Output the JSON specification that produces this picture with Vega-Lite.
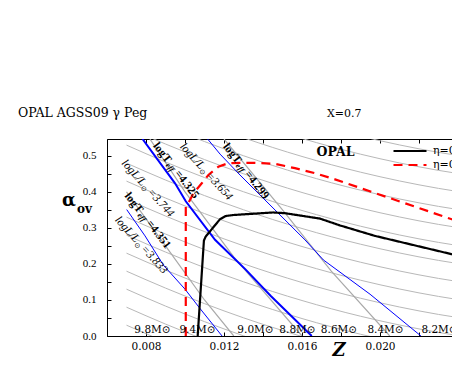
{
  "$schema": "https://vega.github.io/schema/vega-lite/v6.json",
  "autosize": {"type": "none"},
  "padding": {"left": 107, "top": 139, "right": 0, "bottom": 46},
  "width": 345,
  "height": 197,
  "config": {"view": {"stroke": null}, "font": "Liberation Serif"},
  "datasets": {
    "mass": [
      {"id":"m1","i":0,"Z":0.007,"a":0.03},{"id":"m1","i":1,"Z":0.009,"a":-0.0169},
      {"id":"m2","i":0,"Z":0.007,"a":0.08},{"id":"m2","i":1,"Z":0.009,"a":0.0331},{"id":"m2","i":2,"Z":0.011,"a":-0.0101},
      {"id":"m3","i":0,"Z":0.007,"a":0.13},{"id":"m3","i":1,"Z":0.009,"a":0.0831},{"id":"m3","i":2,"Z":0.011,"a":0.0399},{"id":"m3","i":3,"Z":0.013,"a":0.0005},{"id":"m3","i":4,"Z":0.016,"a":-0.0515},
      {"id":"m4","i":0,"Z":0.007,"a":0.18},{"id":"m4","i":1,"Z":0.009,"a":0.1331},{"id":"m4","i":2,"Z":0.011,"a":0.0899},{"id":"m4","i":3,"Z":0.013,"a":0.0505},{"id":"m4","i":4,"Z":0.016,"a":-0.0015},
      {"id":"m5","i":0,"Z":0.007,"a":0.23},{"id":"m5","i":1,"Z":0.009,"a":0.1831},{"id":"m5","i":2,"Z":0.011,"a":0.1399},{"id":"m5","i":3,"Z":0.013,"a":0.1005},{"id":"m5","i":4,"Z":0.016,"a":0.0485},{"id":"m5","i":5,"Z":0.019,"a":0.0049},{"id":"m5","i":6,"Z":0.023,"a":-0.0401},
      {"id":"m6","i":0,"Z":0.007,"a":0.28},{"id":"m6","i":1,"Z":0.009,"a":0.2331},{"id":"m6","i":2,"Z":0.011,"a":0.1899},{"id":"m6","i":3,"Z":0.013,"a":0.1505},{"id":"m6","i":4,"Z":0.016,"a":0.0985},{"id":"m6","i":5,"Z":0.019,"a":0.0549},{"id":"m6","i":6,"Z":0.023,"a":0.0099},{"id":"m6","i":7,"Z":0.027,"a":-0.02},
      {"id":"m7","i":0,"Z":0.007,"a":0.33},{"id":"m7","i":1,"Z":0.009,"a":0.2831},{"id":"m7","i":2,"Z":0.011,"a":0.2399},{"id":"m7","i":3,"Z":0.013,"a":0.2005},{"id":"m7","i":4,"Z":0.016,"a":0.1485},{"id":"m7","i":5,"Z":0.019,"a":0.1049},{"id":"m7","i":6,"Z":0.023,"a":0.0599},{"id":"m7","i":7,"Z":0.027,"a":0.03},
      {"id":"m8","i":0,"Z":0.007,"a":0.38},{"id":"m8","i":1,"Z":0.009,"a":0.3331},{"id":"m8","i":2,"Z":0.011,"a":0.2899},{"id":"m8","i":3,"Z":0.013,"a":0.2505},{"id":"m8","i":4,"Z":0.016,"a":0.1985},{"id":"m8","i":5,"Z":0.019,"a":0.1549},{"id":"m8","i":6,"Z":0.023,"a":0.1099},{"id":"m8","i":7,"Z":0.027,"a":0.08},
      {"id":"m9","i":0,"Z":0.007,"a":0.43},{"id":"m9","i":1,"Z":0.009,"a":0.3831},{"id":"m9","i":2,"Z":0.011,"a":0.3399},{"id":"m9","i":3,"Z":0.013,"a":0.3005},{"id":"m9","i":4,"Z":0.016,"a":0.2485},{"id":"m9","i":5,"Z":0.019,"a":0.2049},{"id":"m9","i":6,"Z":0.023,"a":0.1599},{"id":"m9","i":7,"Z":0.027,"a":0.13},
      {"id":"m10","i":0,"Z":0.007,"a":0.48},{"id":"m10","i":1,"Z":0.009,"a":0.4331},{"id":"m10","i":2,"Z":0.011,"a":0.3899},{"id":"m10","i":3,"Z":0.013,"a":0.3505},{"id":"m10","i":4,"Z":0.016,"a":0.2985},{"id":"m10","i":5,"Z":0.019,"a":0.2549},{"id":"m10","i":6,"Z":0.023,"a":0.2099},{"id":"m10","i":7,"Z":0.027,"a":0.18},
      {"id":"m11","i":0,"Z":0.007,"a":0.53},{"id":"m11","i":1,"Z":0.009,"a":0.4831},{"id":"m11","i":2,"Z":0.011,"a":0.4399},{"id":"m11","i":3,"Z":0.013,"a":0.4005},{"id":"m11","i":4,"Z":0.016,"a":0.3485},{"id":"m11","i":5,"Z":0.019,"a":0.3049},{"id":"m11","i":6,"Z":0.023,"a":0.2599},{"id":"m11","i":7,"Z":0.027,"a":0.23},
      {"id":"m12","i":0,"Z":0.007,"a":0.58},{"id":"m12","i":1,"Z":0.009,"a":0.5331},{"id":"m12","i":2,"Z":0.011,"a":0.4899},{"id":"m12","i":3,"Z":0.013,"a":0.4505},{"id":"m12","i":4,"Z":0.016,"a":0.3985},{"id":"m12","i":5,"Z":0.019,"a":0.3549},{"id":"m12","i":6,"Z":0.023,"a":0.3099},{"id":"m12","i":7,"Z":0.027,"a":0.28},
      {"id":"m13","i":0,"Z":0.007,"a":0.63},{"id":"m13","i":1,"Z":0.009,"a":0.5831},{"id":"m13","i":2,"Z":0.011,"a":0.5399},{"id":"m13","i":3,"Z":0.013,"a":0.5005},{"id":"m13","i":4,"Z":0.016,"a":0.4485},{"id":"m13","i":5,"Z":0.019,"a":0.4049},{"id":"m13","i":6,"Z":0.023,"a":0.3599},{"id":"m13","i":7,"Z":0.027,"a":0.33},
      {"id":"m14","i":0,"Z":0.007,"a":0.68},{"id":"m14","i":1,"Z":0.009,"a":0.6331},{"id":"m14","i":2,"Z":0.011,"a":0.5899},{"id":"m14","i":3,"Z":0.013,"a":0.5505},{"id":"m14","i":4,"Z":0.016,"a":0.4985},{"id":"m14","i":5,"Z":0.019,"a":0.4549},{"id":"m14","i":6,"Z":0.023,"a":0.4099},{"id":"m14","i":7,"Z":0.027,"a":0.38},
      {"id":"m15","i":0,"Z":0.011,"a":0.6399},{"id":"m15","i":1,"Z":0.013,"a":0.6005},{"id":"m15","i":2,"Z":0.016,"a":0.5485},{"id":"m15","i":3,"Z":0.019,"a":0.5049},{"id":"m15","i":4,"Z":0.023,"a":0.4599},{"id":"m15","i":5,"Z":0.027,"a":0.43},
      {"id":"m16","i":0,"Z":0.013,"a":0.6505},{"id":"m16","i":1,"Z":0.016,"a":0.5985},{"id":"m16","i":2,"Z":0.019,"a":0.5549},{"id":"m16","i":3,"Z":0.023,"a":0.5099},{"id":"m16","i":4,"Z":0.027,"a":0.48},
      {"id":"m17","i":0,"Z":0.016,"a":0.6485},{"id":"m17","i":1,"Z":0.019,"a":0.6049},{"id":"m17","i":2,"Z":0.023,"a":0.5599},{"id":"m17","i":3,"Z":0.027,"a":0.53}
    ],
    "lum": [
      {"id":"s1","i":0,"Z":0.0070,"a":0.40},{"id":"s1","i":1,"Z":0.0090,"a":0.25},{"id":"s1","i":2,"Z":0.0110,"a":0.10},{"id":"s1","i":3,"Z":0.0125,"a":0.0},
      {"id":"s2","i":0,"Z":0.0082,"a":0.547},{"id":"s2","i":1,"Z":0.0100,"a":0.40},{"id":"s2","i":2,"Z":0.0125,"a":0.22},{"id":"s2","i":3,"Z":0.0160,"a":0.0},
      {"id":"s3","i":0,"Z":0.0120,"a":0.547},{"id":"s3","i":1,"Z":0.0150,"a":0.35},{"id":"s3","i":2,"Z":0.0175,"a":0.18},{"id":"s3","i":3,"Z":0.0205,"a":0.0}
    ],
    "tthick": [
      {"id":"4.325","i":0,"Z":0.00782,"a":0.547},{"id":"4.325","i":1,"Z":0.00949,"a":0.424},{"id":"4.325","i":2,"Z":0.01004,"a":0.374},{"id":"4.325","i":3,"Z":0.01154,"a":0.267},{"id":"4.325","i":4,"Z":0.0131,"a":0.185},{"id":"4.325","i":5,"Z":0.0144,"a":0.111},{"id":"4.325","i":6,"Z":0.0165,"a":0.0}
    ],
    "tthin": [
      {"id":"4.299","i":0,"Z":0.01116,"a":0.547},{"id":"4.299","i":1,"Z":0.0118,"a":0.505},{"id":"4.299","i":2,"Z":0.01282,"a":0.447},{"id":"4.299","i":3,"Z":0.01615,"a":0.267},{"id":"4.299","i":4,"Z":0.0171,"a":0.211},{"id":"4.299","i":5,"Z":0.01949,"a":0.116},{"id":"4.299","i":6,"Z":0.0221,"a":0.0},
      {"id":"4.351","i":0,"Z":0.00701,"a":0.351},{"id":"4.351","i":1,"Z":0.00795,"a":0.278},{"id":"4.351","i":2,"Z":0.00889,"a":0.197},{"id":"4.351","i":3,"Z":0.0100,"a":0.13},{"id":"4.351","i":4,"Z":0.01073,"a":0.079},{"id":"4.351","i":5,"Z":0.0119,"a":0.0}
    ],
    "eta": [
      {"eta":"η=0","i":0,"Z":0.01065,"a":0.0},{"eta":"η=0","i":1,"Z":0.01097,"a":0.265},{"eta":"η=0","i":2,"Z":0.01106,"a":0.276},{"eta":"η=0","i":3,"Z":0.01179,"a":0.324},{"eta":"η=0","i":4,"Z":0.01208,"a":0.333},{"eta":"η=0","i":5,"Z":0.01248,"a":0.336},{"eta":"η=0","i":6,"Z":0.01453,"a":0.343},{"eta":"η=0","i":7,"Z":0.01513,"a":0.341},{"eta":"η=0","i":8,"Z":0.01692,"a":0.326},{"eta":"η=0","i":9,"Z":0.01795,"a":0.307},{"eta":"η=0","i":10,"Z":0.01974,"a":0.278},{"eta":"η=0","i":11,"Z":0.02369,"a":0.227},{"eta":"η=0","i":12,"Z":0.0300,"a":0.15},
      {"eta":"η=0.1","i":0,"Z":0.01004,"a":0.0},{"eta":"η=0.1","i":1,"Z":0.01004,"a":0.359},{"eta":"η=0.1","i":2,"Z":0.01017,"a":0.369},{"eta":"η=0.1","i":3,"Z":0.01043,"a":0.396},{"eta":"η=0.1","i":4,"Z":0.01086,"a":0.424},{"eta":"η=0.1","i":5,"Z":0.0112,"a":0.447},{"eta":"η=0.1","i":6,"Z":0.01171,"a":0.470},{"eta":"η=0.1","i":7,"Z":0.01222,"a":0.480},{"eta":"η=0.1","i":8,"Z":0.01342,"a":0.481},{"eta":"η=0.1","i":9,"Z":0.01462,"a":0.478},{"eta":"η=0.1","i":10,"Z":0.01564,"a":0.466},{"eta":"η=0.1","i":11,"Z":0.01667,"a":0.452},{"eta":"η=0.1","i":12,"Z":0.01769,"a":0.435},{"eta":"η=0.1","i":13,"Z":0.02369,"a":0.324},{"eta":"η=0.1","i":14,"Z":0.0300,"a":0.21}
    ],
    "tlab": [
      {"Z":0.008462,"a":0.5325,"t1":"logT","t2":"eff","t3":"=4.325"},
      {"Z":0.012051,"a":0.5306,"t1":"logT","t2":"eff","t3":"=4.299"},
      {"Z":0.00701,"a":0.3936,"t1":"logT","t2":"eff","t3":"=4.351"}
    ],
    "llab": [
      {"Z":0.009831,"a":0.5306,"t1":"logL/L","t2":"⊙","t3":"=3.654"},
      {"Z":0.006836,"a":0.4842,"t1":"logL/L","t2":"⊙","t3":"=3.744"},
      {"Z":0.006497,"a":0.3269,"t1":"logL/L","t2":"⊙","t3":"=3.833"}
    ],
    "mlab": [
      {"Z":0.008333,"a":0.008,"t":"9.8M⊙"},
      {"Z":0.010641,"a":0.008,"t":"9.4M⊙"},
      {"Z":0.013615,"a":0.008,"t":"9.0M⊙"},
      {"Z":0.015769,"a":0.008,"t":"8.8M⊙"},
      {"Z":0.017897,"a":0.008,"t":"8.6M⊙"},
      {"Z":0.020282,"a":0.008,"t":"8.4M⊙"},
      {"Z":0.023051,"a":0.008,"t":"8.2M⊙"}
    ],
    "head1": [{"Z":0.001436,"a":0.609,"t":"OPAL AGSS09  γ Peg"}],
    "head2": [{"Z":0.017282,"a":0.609,"t":"X=0.7"}],
    "opal": [{"Z":0.01772,"a":0.5,"t":"OPAL"}],
    "alpha": [{"Z":0.004051,"a":0.361,"t":"α"}],
    "ov": [{"Z":0.004462,"a":0.342,"t":"ov"}]
  },
  "encoding": {
    "x": {"field": "Z", "type": "quantitative", "scale": {"domain": [0.006, 0.023692]}, "axis": null},
    "y": {"field": "a", "type": "quantitative", "scale": {"domain": [0, 0.547]},
      "axis": {"orient": "left", "values": [0,0.05,0.1,0.15,0.2,0.25,0.3,0.35,0.4,0.45,0.5],
        "labelExpr": "round(datum.value*100) % 10 == 0 ? format(datum.value, '.1f') : ''",
        "grid": false, "domain": true, "domainColor": "black", "domainWidth": 1,
        "tickColor": "black", "tickSize": -4, "labelPadding": 15,
        "labelFont": "Liberation Serif", "labelFontSize": 11, "labelColor": "black", "title": null}}
  },
  "layer": [
    {
      "data": {"name": "mass"},
      "mark": {"type": "line", "clip": true, "color": "#b8b8b8", "strokeWidth": 1, "interpolate": "monotone"},
      "encoding": {
        "detail": {"field": "id"},
        "order": {"field": "i", "type": "quantitative"},
        "x": {"field": "Z", "type": "quantitative", "scale": {"domain": [0.006, 0.023692]},
          "axis": {"orient": "bottom", "values": [0.006,0.008,0.010,0.012,0.014,0.016,0.018,0.020,0.022,0.024],
            "labelExpr": "round(datum.value*1000) % 4 == 0 ? format(datum.value, '.3f') : ''",
            "labelOverlap": false, "labelFlush": false, "labelBound": false,
            "grid": false, "domain": true, "domainColor": "black", "domainWidth": 1,
            "tickColor": "black", "tickSize": -4, "labelPadding": 9,
            "labelFont": "DejaVu Serif", "labelFontSize": 10.5, "labelColor": "black",
            "title": "Z", "titleFont": "DejaVu Serif", "titleFontSize": 18, "titleFontWeight": "bold", "titleFontStyle": "italic",
            "titleColor": "black", "titleX": 231.5, "titleY": 19, "titleBaseline": "alphabetic"}}
      }
    },
    {
      "data": {"name": "lum"},
      "mark": {"type": "line", "clip": true, "color": "#a9a9a9", "strokeWidth": 1.2},
      "encoding": {"detail": {"field": "id"}, "order": {"field": "i", "type": "quantitative"}}
    },
    {
      "data": {"name": "tthin"},
      "mark": {"type": "line", "clip": true, "color": "#0000ff", "strokeWidth": 1},
      "encoding": {
        "detail": {"field": "id"},
        "order": {"field": "i", "type": "quantitative"},
        "x": {"field": "Z", "type": "quantitative", "scale": {"domain": [0.006, 0.023692]},
          "axis": {"orient": "top", "values": [0.006,0.008,0.010,0.012,0.014,0.016,0.018,0.020,0.022],
            "labels": false, "grid": false, "domain": true, "domainColor": "black", "domainWidth": 1,
            "tickColor": "black", "tickSize": -4, "title": null}}
      }
    },
    {
      "data": {"name": "tthick"},
      "mark": {"type": "line", "clip": true, "color": "#0000ff", "strokeWidth": 2},
      "encoding": {"order": {"field": "i", "type": "quantitative"}}
    },
    {
      "data": {"name": "eta"},
      "mark": {"type": "line", "clip": true, "strokeWidth": 2.2},
      "encoding": {
        "order": {"field": "i", "type": "quantitative"},
        "color": {"field": "eta", "type": "nominal", "scale": {"domain": ["η=0", "η=0.1"], "range": ["black", "#ff0000"]},
          "legend": {"orient": "none", "legendX": 296, "legendY": 5, "title": null, "symbolType": "M-3,0H3", "symbolSize": 121,
            "symbolStrokeWidth": 2.2, "labelFont": "DejaVu Serif", "labelFontSize": 11, "labelColor": "black", "labelOffset": 16,
            "rowPadding": 2, "padding": 0}},
        "strokeDash": {"field": "eta", "type": "nominal", "scale": {"domain": ["η=0", "η=0.1"], "range": [[1, 0], [9, 6]]}}
      }
    },
    {
      "data": {"name": "tlab"},
      "mark": {"type": "text", "angle": 52, "font": "Liberation Serif", "fontWeight": "bold", "fontSize": 11.5, "align": "left", "baseline": "middle", "color": "black"},
      "encoding": {"text": {"field": "t1"}}
    },
    {
      "data": {"name": "tlab"},
      "mark": {"type": "text", "angle": 52, "dx": 23, "dy": 3, "font": "Liberation Serif", "fontWeight": "bold", "fontStyle": "italic", "fontSize": 8, "align": "left", "baseline": "middle", "color": "black"},
      "encoding": {"text": {"field": "t2"}}
    },
    {
      "data": {"name": "tlab"},
      "mark": {"type": "text", "angle": 52, "dx": 35, "font": "Liberation Serif", "fontWeight": "bold", "fontSize": 11.5, "align": "left", "baseline": "middle", "color": "black"},
      "encoding": {"text": {"field": "t3"}}
    },
    {
      "data": {"name": "llab"},
      "mark": {"type": "text", "angle": 48, "font": "Liberation Serif", "fontStyle": "italic", "fontSize": 11.5, "align": "left", "baseline": "middle", "color": "black"},
      "encoding": {"text": {"field": "t1"}}
    },
    {
      "data": {"name": "llab"},
      "mark": {"type": "text", "angle": 48, "dx": 31, "dy": 3, "font": "DejaVu Sans", "fontSize": 7, "align": "left", "baseline": "middle", "color": "black"},
      "encoding": {"text": {"field": "t2"}}
    },
    {
      "data": {"name": "llab"},
      "mark": {"type": "text", "angle": 48, "dx": 39, "font": "Liberation Serif", "fontStyle": "italic", "fontSize": 11.5, "align": "left", "baseline": "middle", "color": "black"},
      "encoding": {"text": {"field": "t3"}}
    },
    {
      "data": {"name": "mlab"},
      "mark": {"type": "text", "font": "DejaVu Serif", "fontSize": 10.5, "align": "center", "baseline": "alphabetic", "color": "black"},
      "encoding": {"text": {"field": "t"}}
    },
    {
      "data": {"name": "head1"},
      "mark": {"type": "text", "font": "DejaVu Serif", "fontSize": 12.5, "align": "left", "baseline": "alphabetic", "color": "black"},
      "encoding": {"text": {"field": "t"}}
    },
    {
      "data": {"name": "head2"},
      "mark": {"type": "text", "font": "DejaVu Serif", "fontSize": 11, "align": "left", "baseline": "alphabetic", "color": "black"},
      "encoding": {"text": {"field": "t"}}
    },
    {
      "data": {"name": "opal"},
      "mark": {"type": "text", "font": "DejaVu Serif", "fontWeight": "bold", "fontSize": 12.5, "align": "center", "baseline": "alphabetic", "color": "black"},
      "encoding": {"text": {"field": "t"}}
    },
    {
      "data": {"name": "alpha"},
      "mark": {"type": "text", "font": "DejaVu Serif", "fontWeight": "bold", "fontSize": 18, "align": "center", "baseline": "alphabetic", "color": "black"},
      "encoding": {"text": {"field": "t"}}
    },
    {
      "data": {"name": "ov"},
      "mark": {"type": "text", "font": "DejaVu Serif", "fontWeight": "bold", "fontSize": 12, "align": "left", "baseline": "alphabetic", "color": "black"},
      "encoding": {"text": {"field": "t"}}
    }
  ],
  "resolve": {"axis": {"x": "independent"}}
}
